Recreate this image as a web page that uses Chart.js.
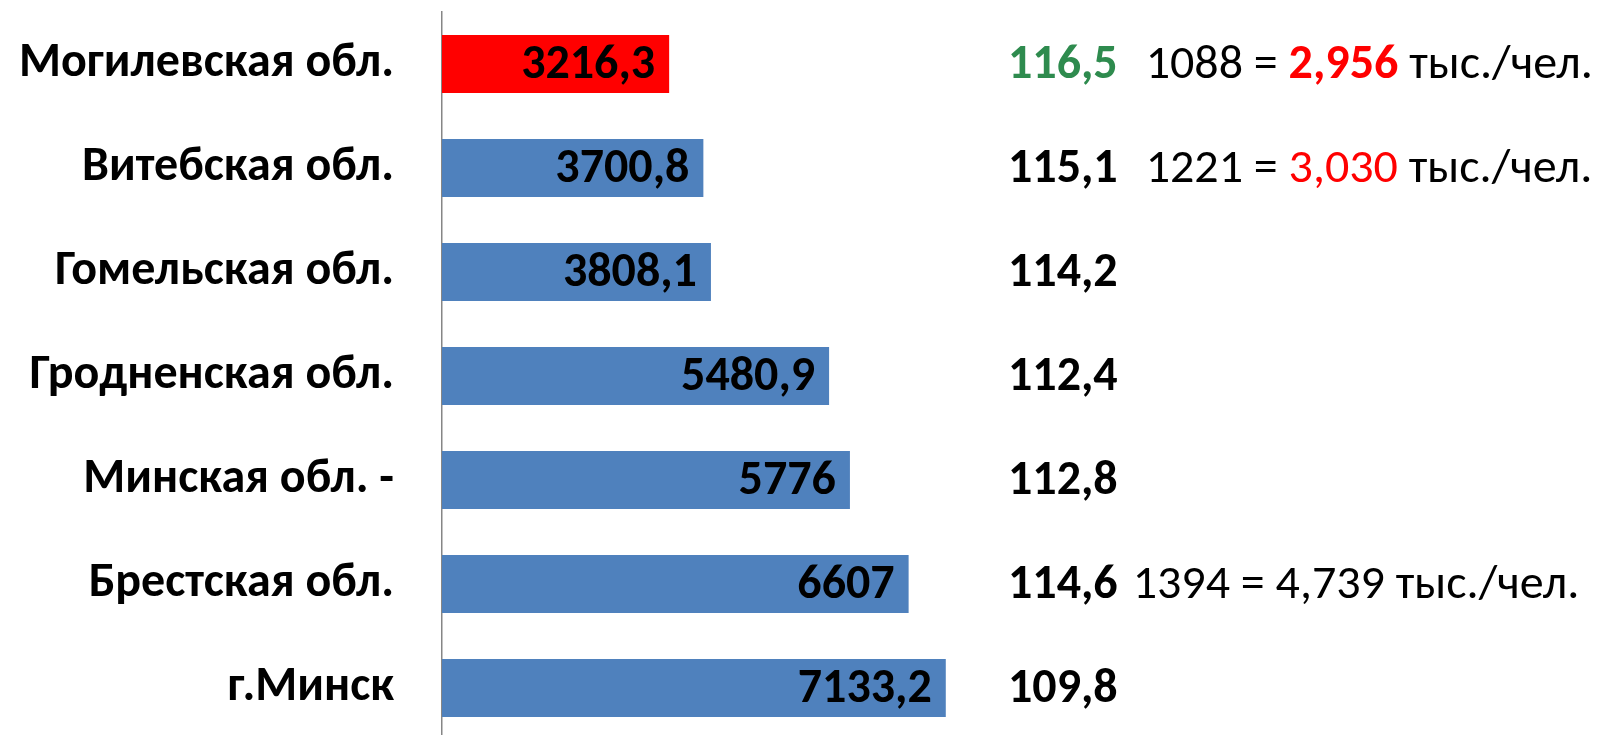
<!DOCTYPE html>
<html>
<head>
<meta charset="utf-8">
<script src="https://cdn.jsdelivr.net/npm/chart.js@4"></script>
<style>
  html, body { margin: 0; padding: 0; background: #fff; overflow: hidden; }
  canvas { display: block; }
</style>
</head>
<body>
<canvas id="regionChart" width="1599" height="740"></canvas>
<script>
// data
const categories = ['Могилевская обл.', 'Витебская обл.', 'Гомельская обл.', 'Гродненская обл.', 'Минская обл. -', 'Брестская обл.', 'г.Минск']
const values = [3216.3, 3700.8, 3808.1, 5480.9, 5776, 6607, 7133.2]
const growth = [116.5, 115.1, 114.2, 112.4, 112.8, 114.6, 109.8]
const people = [1088, 1221, null, null, null, 1394, null]
const perCapita = [2.956, 3.030, null, null, null, 4.739, null]
const noteUnit = ' тыс./чел.'

const highlightIndex = 0
const FONT = 'Carlito, Calibri, Lato, sans-serif'
const SIZE = 48

function fmt(v, digits) {
  return (digits == null ? String(v) : v.toFixed(digits)).replace('.', ',')
}

// value labels inside bars + notes on the right
const textPlugin = {
  id: 'textPlugin',
  afterDatasetsDraw(chart) {
    const ctx = chart.ctx
    const x = chart.scales.x
    const y = chart.scales.y
    ctx.save()
    ctx.textBaseline = 'middle'

    values.forEach((v, i) => {
      const cy = y.getPixelForValue(i) + 2
      ctx.font = `bold ${SIZE}px ${FONT}`
      ctx.fillStyle = '#000'
      ctx.textAlign = 'right'
      ctx.fillText(fmt(v), x.getPixelForValue(v) - 14, cy)

      // growth index
      ctx.textAlign = 'left'
      let tx = 1008
      ctx.fillStyle = i === highlightIndex ? '#2E8B4E' : '#000'
      const g = fmt(growth[i], 1)
      ctx.fillText(g, tx, cy)
      tx += ctx.measureText(g).width

      if (people[i] != null) {
        tx += i === 5 ? 15 : 28
        ctx.font = `${SIZE}px ${FONT}`
        ctx.fillStyle = '#000'
        const p = people[i] + ' = '
        ctx.fillText(p, tx, cy)
        tx += ctx.measureText(p).width

        const pc = fmt(perCapita[i], 3)
        ctx.font = (i === 0 ? 'bold ' : '') + `${SIZE}px ${FONT}`
        ctx.fillStyle = i <= 1 ? '#FF0000' : '#000'
        ctx.fillText(pc, tx, cy)
        tx += ctx.measureText(pc).width

        ctx.font = `${SIZE}px ${FONT}`
        ctx.fillStyle = '#000'
        ctx.fillText(noteUnit, tx, cy)
      }
    })
    ctx.restore()
  }
}

const ctx = document.getElementById('regionChart').getContext('2d')
const regionChart = new Chart(ctx, {
  type: 'bar',
  data: {
    labels: categories,
    datasets: [{
      data: values,
      backgroundColor: c => c.dataIndex === highlightIndex ? '#FF0000' : '#4F81BD',
      borderWidth: 0,
      barPercentage: 0.56,
      categoryPercentage: 1
    }]
  },
  options: {
    indexAxis: 'y',
    responsive: false,
    animation: false,
    layout: {
      padding: { top: 12, right: 27, left: 0, bottom: 0 }
    },
    scales: {
      x: {
        display: false,
        min: 0,
        max: 16000
      },
      y: {
        grid: { display: false },
        border: { color: '#868686', width: 1.5 },
        ticks: {
          color: '#000',
          padding: 40,
          font: { family: FONT, size: SIZE, weight: 'bold' }
        },
        afterFit: s => {
          s.width = 442
          // tick padding should not shrink the plot vertically
          s.paddingTop = 0
          s.paddingBottom = 0
        }
      }
    },
    plugins: {
      legend: { display: false },
      tooltip: { enabled: false }
    }
  },
  plugins: [textPlugin]
})
</script>
</body>
</html>
